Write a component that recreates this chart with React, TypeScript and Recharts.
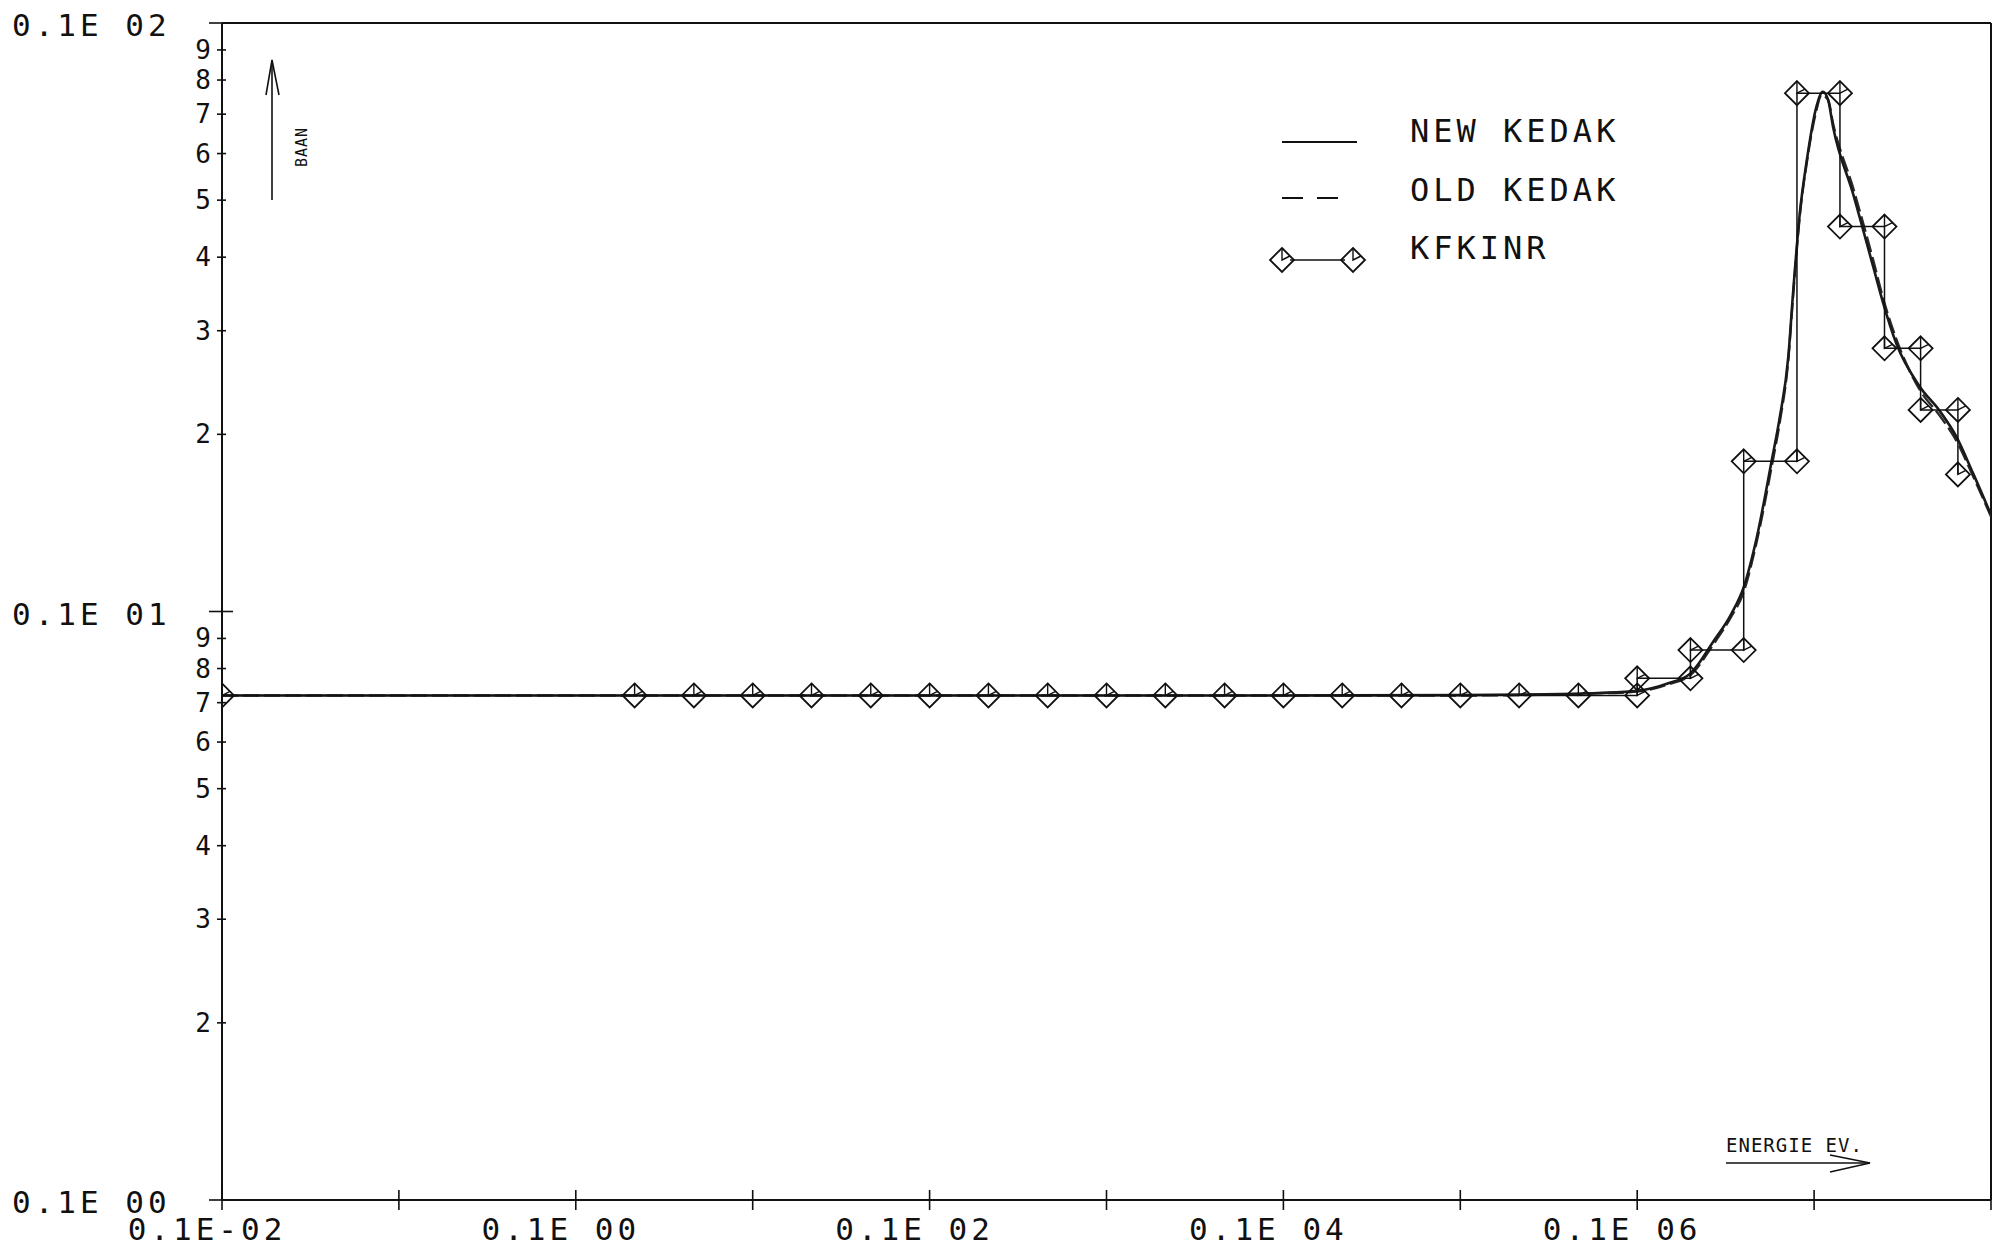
import React from 'react';
import { ComposedChart, Line, XAxis, YAxis, ReferenceLine } from 'recharts';

// Energy axis ticks (eV), one per decade; labels only on every second decade
const xTickValues = [1e-3, 1e-2, 1e-1, 1, 10, 100, 1e3, 1e4, 1e5, 1e6, 1e7];
const xTickLabels = ['0.1E-02', '', '0.1E 00', '', '0.1E 02', '', '0.1E 04', '', '0.1E 06', '', ''];

// Cross-section axis ticks (barn)
const yTickValues = [
  0.1, 0.2, 0.3, 0.4, 0.5, 0.6, 0.7, 0.8, 0.9,
  1, 2, 3, 4, 5, 6, 7, 8, 9, 10,
];
const yTickLabels = [
  '0.1E 00', '2', '3', '4', '5', '6', '7', '8', '9',
  '0.1E 01', '2', '3', '4', '5', '6', '7', '8', '9', '0.1E 02',
];

// NEW KEDAK evaluation
const newKedakEnergy = [
  1e-3, 1e3, 1e4, 3e4, 6e4, 1e5, 1.5e5, 2e5, 2.7e5, 3.4e5, 4e5, 4.7e5, 5.75e5,
  6.4e5, 7.15e5, 7.6e5, 8.3e5, 9.1e5, 1.03e6, 1.12e6, 1.2e6, 1.28e6, 1.66e6,
  2.16e6, 2.46e6, 2.92e6, 3.96e6, 5.14e6, 6.38e6, 7.9e6, 1e7,
];
const newKedakSigma = [
  0.72, 0.72, 0.721, 0.723, 0.727, 0.733, 0.755, 0.785, 0.89, 0.99, 1.1, 1.32, 1.8,
  2.14, 2.71, 3.47, 4.75, 5.85, 7.2, 7.64, 7.4, 6.66, 5.13,
  3.85, 3.34, 2.85, 2.41, 2.19, 1.98, 1.72, 1.46,
];

// OLD KEDAK evaluation
const oldKedakEnergy = [
  1e-3, 1e3, 1e4, 3e4, 6e4, 1e5, 1.5e5, 2e5, 2.7e5, 3.4e5, 4e5, 4.7e5, 5.75e5,
  6.4e5, 7.15e5, 7.6e5, 8.3e5, 9.1e5, 1.03e6, 1.1e6, 1.2e6, 1.28e6, 1.66e6,
  2.16e6, 2.46e6, 2.92e6, 3.96e6, 5.14e6, 6.38e6, 7.9e6, 1e7,
];
const oldKedakSigma = [
  0.72, 0.72, 0.72, 0.722, 0.726, 0.731, 0.752, 0.78, 0.88, 0.98, 1.08, 1.3, 1.76,
  2.1, 2.68, 3.42, 4.7, 5.8, 7.1, 7.55, 7.4, 6.75, 5.25,
  3.95, 3.4, 2.9, 2.38, 2.15, 1.95, 1.7, 1.45,
];

// KFKINR group constants: value held across each group, both group edges listed
const kfkinrEnergy = [
  1e-3, 0.215, 0.465, 1, 2.15, 4.65, 10, 21.5, 46.5, 100, 215, 465, 1000, 2150,
  4650, 1e4, 2.15e4, 4.65e4, 1e5,
  1e5, 2e5, 2e5, 4e5, 4e5, 8e5, 8e5, 1.4e6, 1.4e6, 2.5e6, 2.5e6, 4e6, 4e6, 6.5e6, 6.5e6,
];
const kfkinrSigma = [
  0.72, 0.72, 0.72, 0.72, 0.72, 0.72, 0.72, 0.72, 0.72, 0.72, 0.72, 0.72, 0.72, 0.72,
  0.72, 0.72, 0.72, 0.72, 0.72,
  0.77, 0.77, 0.86, 0.86, 1.8, 1.8, 7.6, 7.6, 4.51, 4.51, 2.8, 2.8, 2.2, 2.2, 1.71,
];

const toRows = (es: number[], vs: number[]) => es.map((e, i) => ({ e, v: vs[i] }));
const newKedak = toRows(newKedakEnergy, newKedakSigma);
const oldKedak = toRows(oldKedakEnergy, oldKedakSigma);
const kfkinr = toRows(kfkinrEnergy, kfkinrSigma);

const W = 2009;
const H = 1258;
const INK = '#111';
const FONT = '"DejaVu Sans Mono", monospace';

const findLabel = (values: number[], labels: string[], v: number) => {
  const i = values.findIndex((t) => Math.abs(t - v) / t < 1e-6);
  return i >= 0 ? labels[i] : '';
};

const XTick = (props: any) => {
  const { x, y, payload } = props;
  const label = findLabel(xTickValues, xTickLabels, payload.value);
  return (
    <g>
      <line x1={x} x2={x} y1={y - 10} y2={y + 10} stroke={INK} strokeWidth={1.6} />
      {label ? (
        <text
          x={x - 15}
          y={y + 29}
          textAnchor="middle"
          dominantBaseline="central"
          fontFamily={FONT}
          fontSize={31}
          letterSpacing={4}
          fill={INK}
        >
          {label}
        </text>
      ) : null}
    </g>
  );
};

const YTick = (props: any) => {
  const { x, y, payload } = props;
  const label = findLabel(yTickValues, yTickLabels, payload.value);
  const major = label.length > 1;
  return (
    <g>
      {major ? (
        <line x1={x - 13} x2={x + (payload.value === 1 ? 11 : 0)} y1={y} y2={y} stroke={INK} strokeWidth={1.6} />
      ) : (
        <line x1={x - 5} x2={x + 4} y1={y} y2={y} stroke={INK} strokeWidth={1.6} />
      )}
      {major ? (
        <text
          x={x - 210}
          y={y + 2}
          textAnchor="start"
          dominantBaseline="central"
          fontFamily={FONT}
          fontSize={31}
          letterSpacing={4}
          fill={INK}
        >
          {label}
        </text>
      ) : (
        <text
          x={x - 11}
          y={y}
          textAnchor="end"
          dominantBaseline="central"
          fontFamily={FONT}
          fontSize={26}
          fill={INK}
        >
          {label}
        </text>
      )}
    </g>
  );
};

const diamondPath = (cx: number, cy: number, r: number) =>
  `M${cx},${cy - r}L${cx + r},${cy}L${cx},${cy + r}L${cx - r},${cy}Z`;

const DiamondMark = ({ cx, cy }: { cx: number; cy: number }) => (
  <g>
    <path d={diamondPath(cx, cy, 12)} fill="none" stroke={INK} strokeWidth={1.8} />
    <path d={`M${cx},${cy - 12}L${cx},${cy}L${cx + 8},${cy - 4}`} fill="none" stroke={INK} strokeWidth={1.4} />
  </g>
);

const renderDiamondDot = (props: any) => {
  const { cx, cy, index } = props;
  if (cx == null || cy == null) return <g key={`d-${index}`} />;
  return (
    <g key={`d-${index}`}>
      <DiamondMark cx={cx} cy={cy} />
    </g>
  );
};

const Annotations = () => (
  <svg
    width={W}
    height={H}
    style={{ position: 'absolute', left: 0, top: 0, pointerEvents: 'none' }}
  >
    {/* legend */}
    <line x1={1282} x2={1357} y1={142} y2={142} stroke={INK} strokeWidth={2} />
    <line x1={1282} x2={1338} y1={198} y2={198} stroke={INK} strokeWidth={2} strokeDasharray="21 14" />
    <line x1={1290} x2={1345} y1={260} y2={260} stroke={INK} strokeWidth={1.6} />
    <DiamondMark cx={1282} cy={260} />
    <DiamondMark cx={1353} cy={260} />
    <g fontFamily={FONT} fontSize={32} letterSpacing={4} fill={INK}>
      <text x={1410} y={131} dominantBaseline="central">NEW KEDAK</text>
      <text x={1410} y={190} dominantBaseline="central">OLD KEDAK</text>
      <text x={1410} y={248} dominantBaseline="central">KFKINR</text>
    </g>

    {/* ordinate unit */}
    <line x1={272} x2={272} y1={60} y2={200} stroke={INK} strokeWidth={1.6} />
    <path d="M266,95 L272,60 L279,95" fill="none" stroke={INK} strokeWidth={1.6} />
    <text
      x={302}
      y={147}
      transform="rotate(-90 302 147)"
      textAnchor="middle"
      dominantBaseline="central"
      fontFamily={FONT}
      fontSize={15}
      letterSpacing={1}
      fill={INK}
    >
      BAAN
    </text>

    {/* abscissa unit */}
    <text x={1726} y={1145} dominantBaseline="central" fontFamily={FONT} fontSize={19} letterSpacing={1} fill={INK}>
      ENERGIE EV.
    </text>
    <line x1={1726} x2={1870} y1={1163} y2={1163} stroke={INK} strokeWidth={1.6} />
    <path d="M1830,1155 L1870,1163 L1830,1172" fill="none" stroke={INK} strokeWidth={1.6} />
  </svg>
);

export default function App() {
  return (
    <div style={{ position: 'absolute', left: 0, top: 0, width: W, height: H, background: '#fff' }}>
      <ComposedChart
        width={W}
        height={H}
        margin={{ top: 23, right: 18, bottom: 0, left: 142 }}
      >
        <XAxis
          dataKey="e"
          type="number"
          scale="log"
          domain={[1e-3, 1e7]}
          ticks={xTickValues}
          interval={0}
          allowDataOverflow
          height={58}
          tickSize={0}
          tickMargin={0}
          tickLine={false}
          tick={<XTick />}
          axisLine={{ stroke: INK, strokeWidth: 2 }}
        />
        <YAxis
          dataKey="v"
          type="number"
          scale="log"
          domain={[0.1, 10]}
          ticks={yTickValues}
          interval={0}
          allowDataOverflow
          width={80}
          tickSize={0}
          tickMargin={0}
          tickLine={false}
          tick={<YTick />}
          axisLine={{ stroke: INK, strokeWidth: 2 }}
        />
        <ReferenceLine y={10} stroke={INK} strokeWidth={2} />
        <ReferenceLine x={1e7} stroke={INK} strokeWidth={2} />

        <Line
          data={oldKedak}
          dataKey="v"
          name="OLD KEDAK"
          type="monotone"
          stroke="#2a2a2a"
          strokeWidth={2.4}
          strokeDasharray="16 5"
          dot={false}
          activeDot={false}
          isAnimationActive={false}
        />
        <Line
          data={newKedak}
          dataKey="v"
          name="NEW KEDAK"
          type="monotone"
          stroke="#1a1a1a"
          strokeWidth={2.6}
          dot={false}
          activeDot={false}
          isAnimationActive={false}
        />
        <Line
          data={kfkinr}
          dataKey="v"
          name="KFKINR"
          type="linear"
          stroke={INK}
          strokeWidth={1.5}
          dot={renderDiamondDot}
          activeDot={false}
          isAnimationActive={false}
        />
      </ComposedChart>
      <Annotations />
    </div>
  );
}
